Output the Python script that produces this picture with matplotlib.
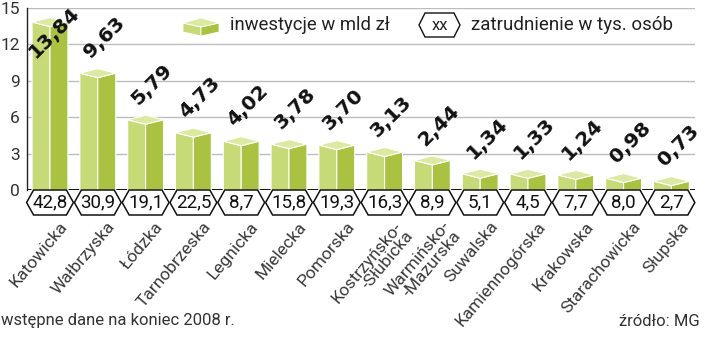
import matplotlib
matplotlib.use("Agg")
import matplotlib.pyplot as plt
from matplotlib.patches import Polygon
from matplotlib import font_manager as fm

# ---- data ----
categories = ["Katowicka", "Wałbrzyska", "Łódzka", "Tarnobrzeska", "Legnicka",
              "Mielecka", "Pomorska", "Kostrzyńsko-\n-Słubicka", "Warmińsko-\n-Mazurska",
              "Suwalska", "Kamiennogórska", "Krakowska", "Starachowicka", "Słupska"]
investments = [13.84, 9.63, 5.79, 4.73, 4.02, 3.78, 3.70, 3.13, 2.44, 1.34, 1.33, 1.24, 0.98, 0.73]
employment = [42.8, 30.9, 19.1, 22.5, 8.7, 15.8, 19.3, 16.3, 8.9, 5.1, 4.5, 7.7, 8.0, 2.7]
yticks = [0, 3, 6, 9, 12, 15]
legend_inv = "inwestycje w mld zł"
legend_emp = "zatrudnienie w tys. osób"
note_left = "wstępne dane na koniec 2008 r."
note_right = "źródło: MG"

names = {f.name for f in fm.fontManager.ttflist}
BASE = "Roboto" if "Roboto" in names else "DejaVu Sans"
FAM = [BASE, "DejaVu Sans"]

C_LEFT = "#c6da78"
C_RIGHT = "#a9c241"
C_TOP = "#dbe9a2"
TXT = "#222222"

W, H = 720, 355
fig = plt.figure(figsize=(W / 100, H / 100), dpi=100)

# main axes: x from 27 px to 695 px, y: 0 at 190 px, 15 at 8 px (from top)
ax_l, ax_r = 27, 695
y0_px, y15_px = 190, 8
ax = fig.add_axes([ax_l / W, (H - y0_px) / H, (ax_r - ax_l) / W, (y0_px - y15_px) / H])
step = 47.8
x_first = 50
ax.set_xlim((ax_l - x_first) / step, (ax_r - x_first) / step)
ax.set_ylim(0, 15)
for s in ["top", "right", "bottom"]:
    ax.spines[s].set_visible(False)
ax.spines["left"].set_color("#222222")
ax.spines["left"].set_linewidth(1.0)
ax.set_xticks([])
ax.set_yticks(yticks)
ax.set_yticklabels([str(t) for t in yticks], family=FAM, fontsize=12.5,
                   color="#333333")
ax.tick_params(axis="y", length=0, pad=5)
for t in yticks[1:]:
    ax.axhline(t, color="#bdbdbd", lw=1.0, zorder=0)
ax.axhline(0, color="#111111", lw=1.4, zorder=1)

px_per_unit_y = (y0_px - y15_px) / 15.0
w = 0.375
d = 4.5 / px_per_unit_y

for i, v in enumerate(investments):
    left = Polygon([(i - w, 0), (i - w, v), (i, v - d), (i, 0)], closed=True,
                   facecolor=C_LEFT, edgecolor="white", lw=0.8, zorder=3)
    right = Polygon([(i, 0), (i, v - d), (i + w, v), (i + w, 0)], closed=True,
                    facecolor=C_RIGHT, edgecolor="white", lw=0.8, zorder=3)
    top = Polygon([(i - w, v), (i, v - d), (i + w, v), (i, v + d)], closed=True,
                  facecolor=C_TOP, edgecolor="white", lw=0.8, zorder=4)
    for p in (left, right, top):
        ax.add_patch(p)
    # value label
    if v > 13:
        off = (-14, -37)
    else:
        off = (-7, 14)
    ax.annotate(f"{v:.2f}".replace(".", ","), xy=(i, v), xytext=off,
                textcoords="offset pixels", rotation=45, rotation_mode="anchor",
                ha="left", va="baseline", fontsize=14.5, fontweight="bold",
                color="#111111", family="DejaVu Sans", zorder=6, annotation_clip=False)

# hexagons with employment numbers
hex_h = 25 / px_per_unit_y
hw = 0.49
tip = 7 / step
for i, e in enumerate(employment):
    yt, yb = 0, -hex_h
    ym = -hex_h / 2
    hexp = Polygon([(i - hw, ym), (i - hw + tip, yt), (i + hw - tip, yt), (i + hw, ym),
                    (i + hw - tip, yb), (i - hw + tip, yb)], closed=True,
                   facecolor="white", edgecolor="#111111", lw=1.1, zorder=5, clip_on=False)
    ax.add_patch(hexp)
    ax.text(i, ym, f"{e:.1f}".replace(".", ","), ha="center", va="center",
            family=FAM, fontsize=13.5, color="#111111", zorder=6, clip_on=False)

# category labels
lab_y = -(219 - y0_px) / px_per_unit_y
for i, c in enumerate(categories):
    ax.annotate(c, xy=(i, lab_y), xytext=(9, 0), textcoords="offset pixels",
                rotation=50, rotation_mode="anchor", ha="right", va="top",
                multialignment="right", family=FAM, fontsize=12.5, color="#3a3a3a",
                annotation_clip=False, linespacing=0.95)

# overlay axes in pixel coordinates for legend and notes
ov = fig.add_axes([0, 0, 1, 1], facecolor="none")
ov.set_xlim(0, W)
ov.set_ylim(H, 0)
ov.axis("off")

# legend cube
cx0, cx1, cy = 183, 219, 24
cm = (cx0 + cx1) / 2
ov.add_patch(Polygon([(cx0, cy - 1), (cm, cy + 3), (cm, cy + 12), (cx0, cy + 8)],
                     facecolor=C_LEFT, edgecolor="white", lw=0.6))
ov.add_patch(Polygon([(cm, cy + 3), (cx1, cy - 1), (cx1, cy + 8), (cm, cy + 12)],
                     facecolor=C_RIGHT, edgecolor="white", lw=0.6))
ov.add_patch(Polygon([(cx0, cy - 1), (cm, cy - 6), (cx1, cy - 1), (cm, cy + 3)],
                     facecolor=C_TOP, edgecolor="white", lw=0.6))
ov.text(230, 25, legend_inv, family=FAM, fontsize=13.3, color=TXT, ha="left", va="center")

# legend hexagon
hx0, hx1, hy0, hy1 = 419, 460, 13, 37
hm = (hy0 + hy1) / 2
ov.add_patch(Polygon([(hx0, hm), (hx0 + 6, hy0), (hx1 - 6, hy0), (hx1, hm),
                      (hx1 - 6, hy1), (hx0 + 6, hy1)], facecolor="white",
                     edgecolor="#111111", lw=1.0))
ov.text((hx0 + hx1) / 2, hm + 1, "xx", family=FAM, fontsize=12, color=TXT,
        ha="center", va="center")
ov.text(471, 25, legend_emp, family=FAM, fontsize=13.5, color=TXT, ha="left", va="center")

# notes
ov.text(1, 321, note_left, family=FAM, fontsize=12, color="#333333", ha="left",
        va="center")
ov.text(700, 321, note_right, family=FAM, fontsize=12, color="#333333", ha="right",
        va="center")

fig.savefig("out.png", dpi=100)
